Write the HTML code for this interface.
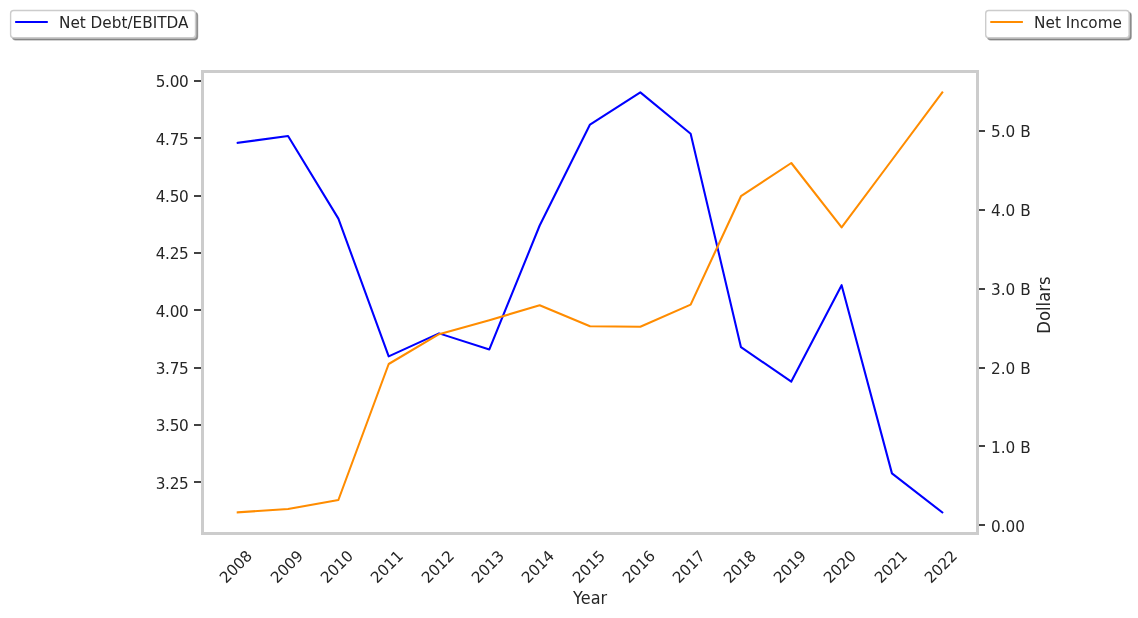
<!DOCTYPE html>
<html lang="en"><head><meta charset="utf-8"><title>Net Debt/EBITDA vs Net Income</title>
<style>html,body{margin:0;padding:0;background:#fff}svg{display:block}text{font-family:"DejaVu Sans","Liberation Sans",sans-serif;fill:#262626}.t{font-size:15.28px}.l{font-size:16.67px}</style>
</head><body>
<svg width="1138" height="618" viewBox="0 0 1138 618">
<rect width="1138" height="618" fill="#fff"/>
<polyline points="237.73,142.89 288.05,136.01 338.38,218.63 388.70,356.33 439.03,333.38 489.35,349.45 539.68,225.51 590.00,124.53 640.32,92.40 690.65,133.71 740.97,347.15 791.30,381.58 841.62,285.19 891.95,473.38 942.27,512.40" fill="none" stroke="#0000ff" stroke-width="2.08" stroke-linejoin="round" stroke-linecap="square"/>
<polyline points="237.73,512.40 288.05,509.00 338.38,500.00 388.70,364.00 439.03,334.20 489.35,320.20 539.68,305.30 590.00,326.20 640.32,326.80 690.65,304.60 740.97,196.20 791.30,163.00 841.62,227.40 891.95,160.00 942.27,92.40" fill="none" stroke="#ff8c00" stroke-width="2.08" stroke-linejoin="round" stroke-linecap="square"/>
<rect x="194" y="80" width="8" height="2" fill="#424242"/>
<text class="t" x="188.5" y="87.00" text-anchor="end" letter-spacing="-0.3">5.00</text>
<rect x="194" y="137" width="8" height="2" fill="#424242"/>
<text class="t" x="188.5" y="145.00" text-anchor="end" letter-spacing="-0.3">4.75</text>
<rect x="194" y="195" width="8" height="2" fill="#424242"/>
<text class="t" x="188.5" y="202.00" text-anchor="end" letter-spacing="-0.3">4.50</text>
<rect x="194" y="252" width="8" height="2" fill="#424242"/>
<text class="t" x="188.5" y="259.00" text-anchor="end" letter-spacing="-0.3">4.25</text>
<rect x="194" y="309" width="8" height="2" fill="#424242"/>
<text class="t" x="188.5" y="317.00" text-anchor="end" letter-spacing="-0.3">4.00</text>
<rect x="194" y="367" width="8" height="2" fill="#424242"/>
<text class="t" x="188.5" y="374.00" text-anchor="end" letter-spacing="-0.3">3.75</text>
<rect x="194" y="424" width="8" height="2" fill="#424242"/>
<text class="t" x="188.5" y="431.00" text-anchor="end" letter-spacing="-0.3">3.50</text>
<rect x="194" y="481" width="8" height="2" fill="#424242"/>
<text class="t" x="188.5" y="489.00" text-anchor="end" letter-spacing="-0.3">3.25</text>
<rect x="978" y="524" width="7" height="2" fill="#424242"/>
<text class="t" x="991.0" y="532.00">0.00</text>
<rect x="978" y="445" width="7" height="2" fill="#424242"/>
<text class="t" x="991.0" y="453.00">1.0 B</text>
<rect x="978" y="367" width="7" height="2" fill="#424242"/>
<text class="t" x="991.0" y="374.00">2.0 B</text>
<rect x="978" y="288" width="7" height="2" fill="#424242"/>
<text class="t" x="991.0" y="295.00">3.0 B</text>
<rect x="978" y="209" width="7" height="2" fill="#424242"/>
<text class="t" x="991.0" y="216.00">4.0 B</text>
<rect x="978" y="130" width="7" height="2" fill="#424242"/>
<text class="t" x="991.0" y="137.00">5.0 B</text>
<rect x="202.5" y="71.5" width="775.0" height="462.0" fill="none" stroke="#cccccc" stroke-width="3"/>
<text class="t" transform="translate(235.50,566.60) rotate(-45)" x="0" y="5.57" text-anchor="middle" letter-spacing="-0.2">2008</text>
<text class="t" transform="translate(286.50,566.60) rotate(-45)" x="0" y="5.57" text-anchor="middle" letter-spacing="-0.2">2009</text>
<text class="t" transform="translate(336.50,566.60) rotate(-45)" x="0" y="5.57" text-anchor="middle" letter-spacing="-0.2">2010</text>
<text class="t" transform="translate(386.50,566.60) rotate(-45)" x="0" y="5.57" text-anchor="middle" letter-spacing="-0.2">2011</text>
<text class="t" transform="translate(437.50,566.60) rotate(-45)" x="0" y="5.57" text-anchor="middle" letter-spacing="-0.2">2012</text>
<text class="t" transform="translate(487.50,566.60) rotate(-45)" x="0" y="5.57" text-anchor="middle" letter-spacing="-0.2">2013</text>
<text class="t" transform="translate(537.50,566.60) rotate(-45)" x="0" y="5.57" text-anchor="middle" letter-spacing="-0.2">2014</text>
<text class="t" transform="translate(588.50,566.60) rotate(-45)" x="0" y="5.57" text-anchor="middle" letter-spacing="-0.2">2015</text>
<text class="t" transform="translate(638.50,566.60) rotate(-45)" x="0" y="5.57" text-anchor="middle" letter-spacing="-0.2">2016</text>
<text class="t" transform="translate(688.50,566.60) rotate(-45)" x="0" y="5.57" text-anchor="middle" letter-spacing="-0.2">2017</text>
<text class="t" transform="translate(739.50,566.60) rotate(-45)" x="0" y="5.57" text-anchor="middle" letter-spacing="-0.2">2018</text>
<text class="t" transform="translate(789.50,566.60) rotate(-45)" x="0" y="5.57" text-anchor="middle" letter-spacing="-0.2">2019</text>
<text class="t" transform="translate(839.50,566.60) rotate(-45)" x="0" y="5.57" text-anchor="middle" letter-spacing="-0.2">2020</text>
<text class="t" transform="translate(890.50,566.60) rotate(-45)" x="0" y="5.57" text-anchor="middle" letter-spacing="-0.2">2021</text>
<text class="t" transform="translate(940.50,566.60) rotate(-45)" x="0" y="5.57" text-anchor="middle" letter-spacing="-0.2">2022</text>
<text class="l" transform="translate(590.10,603.7) scale(0.963,1.06)" text-anchor="middle">Year</text>
<text class="l" transform="translate(1049.5,305.10) rotate(-90) scale(0.987,1.07)" text-anchor="middle">Dollars</text>
<rect x="12.60" y="12.50" width="184.90" height="27.30" rx="3.06" ry="3.06" fill="#4d4d4d" fill-opacity="0.5" stroke="#4d4d4d" stroke-opacity="0.5" stroke-width="1.39"/>
<rect x="10.60" y="10.50" width="184.90" height="27.30" rx="3.06" ry="3.06" fill="#ffffff" stroke="#cccccc" stroke-width="1.39"/>
<line x1="16.20" y1="22.00" x2="46.76" y2="22.00" stroke="#0000ff" stroke-width="2.08" stroke-linecap="square"/>
<text class="t" x="58.98" y="28.00">Net Debt/EBITDA</text>
<rect x="987.70" y="12.50" width="143.40" height="27.30" rx="3.06" ry="3.06" fill="#4d4d4d" fill-opacity="0.5" stroke="#4d4d4d" stroke-opacity="0.5" stroke-width="1.39"/>
<rect x="985.70" y="10.50" width="143.40" height="27.30" rx="3.06" ry="3.06" fill="#ffffff" stroke="#cccccc" stroke-width="1.39"/>
<line x1="991.30" y1="22.00" x2="1021.86" y2="22.00" stroke="#ff8c00" stroke-width="2.08" stroke-linecap="square"/>
<text class="t" x="1034.08" y="28.00">Net Income</text>
</svg>
</body></html>
